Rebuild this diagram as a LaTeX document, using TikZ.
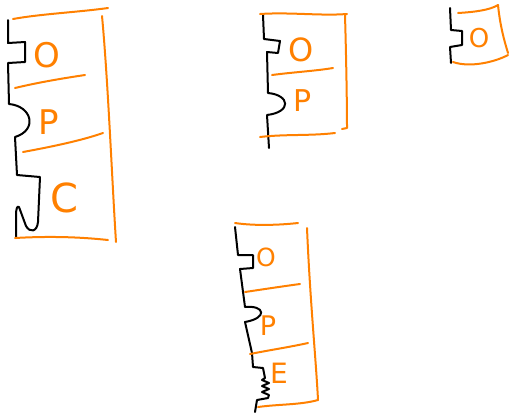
\documentclass[tikz,border=0pt]{standalone}
\usepackage{fontspec}
\setsansfont{DejaVu Sans}
\definecolor{pen}{RGB}{255,128,0}
\begin{document}
\begin{tikzpicture}[x=1pt,y=-1pt,
  ink/.style={black,line width=2pt,line cap=round,line join=round},
  marker/.style={pen,line width=2pt,line cap=round,line join=round},
  letter/.style={text=pen,inner sep=0pt,font=\sffamily\fontsize{#1}{#1}\selectfont}]
\useasboundingbox (0,0) rectangle (510,416);
% ---------- diagram 1 (O P C)
\draw[ink] (8,20) -- (8,43) -- (25,42) -- (25,62) -- (8,63) -- (9,104)
  .. controls (32,106) and (38,130) .. (15,137) -- (17,175) -- (40,177) -- (38,222)
  .. controls (37,232) and (30,233) .. (26,226) -- (19,207)
  .. controls (17,205) and (16,210) .. (16,215) -- (16,238);
\draw[marker] (13,19) .. controls (40,14) and (80,12) .. (108,8);
\draw[marker] (102,16) .. controls (108,80) and (112,180) .. (116,242);
\draw[marker] (15,88) .. controls (40,82) and (65,78) .. (85,75);
\draw[marker] (23,152) .. controls (50,147) and (80,141) .. (103,133);
\draw[marker] (15,238) .. controls (50,236) and (80,237) .. (108,240);
\node[letter=34] (o1) at (47,55) {O};
\node[letter=34] (p1) at (49,122) {P};
\node[letter=40] (c1) at (64,198) {C};
% ---------- diagram 2 (O P)
\draw[ink] (263,15) -- (264,39) -- (280,41) -- (278,53) -- (267,52) -- (268,93)
  .. controls (290,95) and (292,112) .. (267,115) -- (269,148);
\draw[marker] (260,14) .. controls (290,12) and (320,16) .. (347,14);
\draw[marker] (345,15) .. controls (346,50) and (347,100) .. (347,128) -- (342,129);
\draw[marker] (272,75) .. controls (295,72) and (315,71) .. (333,68);
\draw[marker] (260,137) .. controls (285,134) and (310,136) .. (335,133);
\node[letter=32] (o2) at (301,50) {O};
\node[letter=30] (p2) at (303,101) {P};
% ---------- diagram 3 (O)
\draw[ink] (450,8) -- (451,30) -- (462,31) -- (462,45) -- (450,47) -- (451,63);
\draw[marker] (458,13) .. controls (475,12) and (490,10) .. (498,5);
\draw[marker] (498,5) .. controls (500,25) and (504,40) .. (508,53);
\draw[marker] (453,62) .. controls (470,68) and (495,62) .. (508,55);
\node[letter=26] (o3) at (479,38) {O};
% ---------- diagram 4 (O P E)
\draw[ink] (235,227) -- (238,255) -- (253,255) -- (253,268) -- (240,269) -- (245,307)
  .. controls (265,305) and (268,318) .. (245,322) -- (252,353) -- (253,367) -- (263,368)
  -- (265,378) -- (262,380) -- (269,383) -- (262,386) -- (269,389) -- (262,392)
  -- (269,395) -- (268,398) -- (257,400) -- (255,412);
\draw[marker] (235,223) .. controls (255,226) and (280,225) .. (298,223);
\draw[marker] (307,228) .. controls (310,300) and (316,360) .. (318,400);
\draw[marker] (245,292) .. controls (265,289) and (285,286) .. (300,284);
\draw[marker] (250,354) .. controls (270,350) and (290,347) .. (308,343);
\draw[marker] (258,407) .. controls (280,404) and (300,405) .. (318,400);
\node[letter=25] (o4) at (266,257) {O};
\node[letter=27] (p4) at (268,326) {P};
\node[letter=28] (e4) at (279,373) {E};
\end{tikzpicture}
\end{document}
